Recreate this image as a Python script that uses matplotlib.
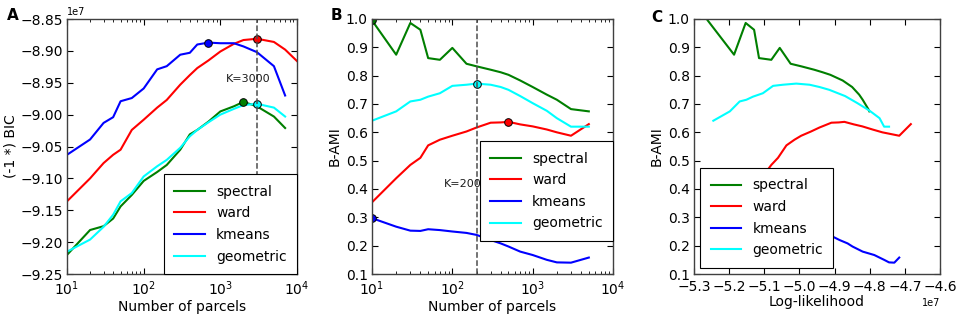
import numpy as np
import matplotlib
matplotlib.use('Agg')
import matplotlib.pyplot as plt

# number of parcels used for BIC (panel A) and B-AMI (panels B, C)
k_bic = [10, 20, 30, 40, 50, 70, 100, 150, 200, 300, 400, 500, 700, 1000, 1500, 2000, 3000, 5000, 7000]
k_bic_ward = k_bic + [10000]
k_ami = [10, 20, 30, 40, 50, 70, 100, 150, 200, 300, 400, 500, 700, 1000, 1500, 2000, 3000, 5000]

# (-1 *) BIC, in units of 1e7
spectral_bic = [-9.220, -9.181, -9.175, -9.163, -9.144, -9.126, -9.104, -9.090, -9.079, -9.055, -9.031,
                -9.024, -9.011, -8.995, -8.987, -8.980, -8.987, -9.003, -9.021]
ward_bic = [-9.136, -9.100, -9.076, -9.063, -9.055, -9.024, -9.008, -8.989, -8.977, -8.953, -8.938,
            -8.927, -8.915, -8.901, -8.889, -8.883, -8.881, -8.886, -8.898, -8.916]
kmeans_bic = [-9.063, -9.039, -9.013, -9.004, -8.979, -8.974, -8.959, -8.929, -8.924, -8.906, -8.903,
              -8.890, -8.887, -8.888, -8.888, -8.893, -8.902, -8.924, -8.970]
geometric_bic = [-9.215, -9.196, -9.176, -9.157, -9.136, -9.123, -9.097, -9.081, -9.071, -9.052, -9.034,
                 -9.024, -9.012, -9.000, -8.991, -8.985, -8.983, -8.989, -9.003]

# B-AMI
spectral_ami = [0.995, 0.874, 0.986, 0.962, 0.862, 0.856, 0.898, 0.842, 0.833, 0.821, 0.812, 0.803,
                0.783, 0.760, 0.733, 0.715, 0.682, 0.674]
ward_ami = [0.353, 0.438, 0.485, 0.510, 0.554, 0.574, 0.588, 0.603, 0.617, 0.634, 0.635, 0.637,
            0.628, 0.621, 0.610, 0.600, 0.588, 0.629]
kmeans_ami = [0.297, 0.267, 0.253, 0.252, 0.258, 0.255, 0.250, 0.245, 0.238, 0.220, 0.208, 0.197,
              0.179, 0.167, 0.150, 0.141, 0.140, 0.158]
geometric_ami = [0.641, 0.674, 0.709, 0.715, 0.726, 0.738, 0.764, 0.768, 0.772, 0.768, 0.760, 0.750,
                 0.728, 0.703, 0.676, 0.650, 0.620, 0.620]

# log-likelihood for each K, in units of 1e7
spectral_ll = [-5.261, -5.186, -5.153, -5.129, -5.115, -5.080, -5.056, -5.025, -4.995, -4.958, -4.934,
               -4.912, -4.877, -4.850, -4.830, -4.820, -4.804, -4.801]
ward_ll = [-5.179, -5.108, -5.080, -5.061, -5.037, -5.014, -4.995, -4.967, -4.943, -4.909, -4.888,
           -4.872, -4.845, -4.821, -4.792, -4.764, -4.716, -4.683]
kmeans_ll = [-5.198, -5.141, -5.094, -5.066, -5.037, -5.009, -4.981, -4.948, -4.915, -4.886, -4.863,
             -4.849, -4.820, -4.787, -4.759, -4.745, -4.730, -4.716]
geometric_ll = [-5.245, -5.198, -5.170, -5.151, -5.132, -5.104, -5.075, -5.047, -5.009, -4.971, -4.943,
                -4.915, -4.870, -4.835, -4.800, -4.772, -4.759, -4.745]

labels = ['spectral', 'ward', 'kmeans', 'geometric']
colors = ['#007f00', '#ff0000', '#0000ff', '#00ffff']

k_best_bic = 3000
k_best_ami = 200

plt.rcParams.update({
    'font.size': 10,
    'axes.linewidth': 1.0,
    'axes.edgecolor': '0.25',
    'xtick.direction': 'in',
    'ytick.direction': 'in',
    'xtick.top': True,
    'ytick.right': True,
    'xtick.major.size': 4,
    'ytick.major.size': 4,
    'xtick.minor.size': 2,
    'ytick.minor.size': 2,
    'xtick.major.pad': 4,
    'ytick.major.pad': 3,
    'axes.labelsize': 10,
    'legend.fontsize': 10,
})

fig = plt.figure(figsize=(9.64, 3.14), dpi=100)
W, H = 964.0, 314.0


def add_axes(left, right, top=19, bottom=274):
    return fig.add_axes([left / W, 1 - bottom / H, (right - left) / W, (bottom - top) / H])


def style_legend(ax, **kw):
    leg = ax.legend(fancybox=False, framealpha=1, edgecolor='k', handlelength=2.2,
                    handletextpad=0.8, borderpad=0.75, labelspacing=0.55, **kw)
    leg.get_frame().set_linewidth(0.8)
    return leg


def mark_max(ax, x, y, c):
    i = int(np.argmax(y))
    ax.plot(x[i], y[i], 'o', color=c, markersize=5.5, markeredgecolor='k', markeredgewidth=0.7)


# ---- panel A
axA = add_axes(67, 297)
bic_series = [(k_bic, spectral_bic), (k_bic_ward, ward_bic), (k_bic, kmeans_bic), (k_bic, geometric_bic)]
for (k, v), lab, c in zip(bic_series, labels, colors):
    axA.plot(k, np.array(v) * 1e7, color=c, lw=1.5, label=lab)
for (k, v), c in zip(bic_series, colors):
    mark_max(axA, k, np.array(v) * 1e7, c)
axA.axvline(k_best_bic, color='0.3', ls='--', lw=1.1)
axA.text(2300, -8.944e7, 'K=%d' % k_best_bic, fontsize=8, ha='center', va='center', color='0.1')
axA.set_xscale('log')
axA.set_xlim(10, 1e4)
axA.set_ylim(-9.25e7, -8.85e7)
axA.set_yticks(np.arange(-9.25, -8.849, 0.05) * 1e7)
axA.ticklabel_format(axis='y', useOffset=False)
axA.yaxis.get_offset_text().set_fontsize(7)
axA.set_xlabel('Number of parcels', labelpad=1)
axA.set_ylabel('(-1 *) BIC', labelpad=2)
style_legend(axA, loc='lower right', borderaxespad=0)

# ---- panel B
axB = add_axes(372, 613)
ami_series = [spectral_ami, ward_ami, kmeans_ami, geometric_ami]
for v, lab, c in zip(ami_series, labels, colors):
    axB.plot(k_ami, v, color=c, lw=1.5, label=lab)
for v, c in zip(ami_series, colors):
    mark_max(axB, k_ami, v, c)
axB.axvline(k_best_ami, color='0.3', ls='--', lw=1.1)
axB.text(135, 0.418, 'K=%d' % k_best_ami, fontsize=8, ha='center', va='center', color='0.1')
axB.set_xscale('log')
axB.set_xlim(10, 1e4)
axB.set_ylim(0.1, 1.0)
axB.set_yticks(np.arange(0.1, 1.01, 0.1))
axB.set_xlabel('Number of parcels', labelpad=1)
axB.set_ylabel('B-AMI', labelpad=3)
style_legend(axB, loc='lower right', bbox_to_anchor=(1.0, 0.13), borderaxespad=0)

# ---- panel C
axC = add_axes(694, 940)
ll_series = [spectral_ll, ward_ll, kmeans_ll, geometric_ll]
for x, v, lab, c in zip(ll_series, ami_series, labels, colors):
    axC.plot(np.array(x) * 1e7, v, color=c, lw=1.5, label=lab)
axC.set_xlim(-5.3e7, -4.6e7)
axC.set_xticks(np.arange(-5.3, -4.59, 0.1) * 1e7)
axC.ticklabel_format(axis='x', useOffset=False)
axC.xaxis.get_offset_text().set_fontsize(7)
axC.set_ylim(0.1, 1.0)
axC.set_yticks(np.arange(0.1, 1.01, 0.1))
axC.set_xlabel('Log-likelihood', labelpad=1)
axC.set_ylabel('B-AMI', labelpad=3)
style_legend(axC, loc='lower left', borderaxespad=0.45)

for letter, x, y in [('A', 7, 8), ('B', 331, 8), ('C', 651, 10)]:
    fig.text(x / W, 1 - y / H, letter, fontsize=11, fontweight='bold', va='top', ha='left')

fig.savefig('out.png', dpi=100)
